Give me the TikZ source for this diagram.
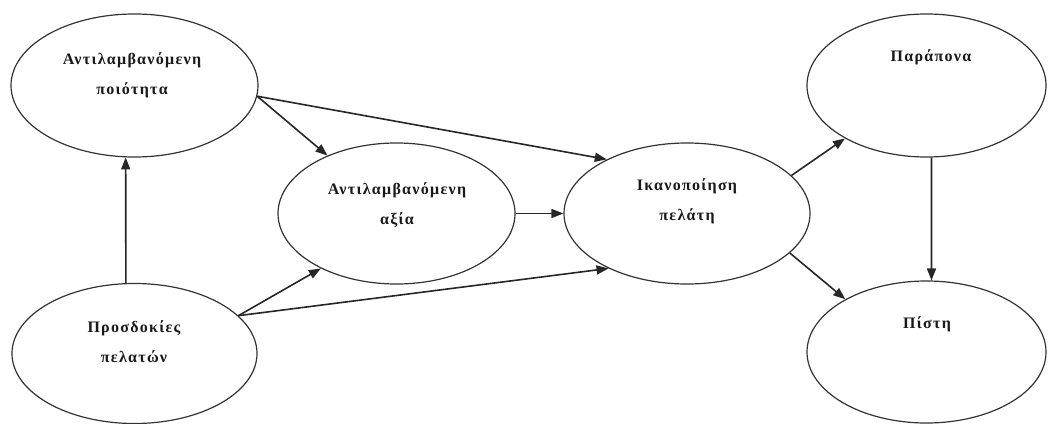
\documentclass[tikz,border=0pt]{standalone}
\usepackage{fontspec}
\setmainfont{Liberation Serif}
\usetikzlibrary{shapes.geometric,arrows.meta}
\begin{document}
\begin{tikzpicture}[x=1pt,y=-1pt,
  oval/.style={ellipse,draw=black!80,line width=1.2pt,inner sep=0pt},
  lbl/.style={align=center,font=\fontsize{16}{30}\selectfont\bfseries\addfontfeatures{LetterSpace=8},text=black!90},
  arr/.style={draw=black!85,line width=1.6pt,-{Triangle[length=12pt,width=9pt]}}]
\useasboundingbox (0,0) rectangle (1054,423);
\node[oval,minimum width=247pt,minimum height=143pt] (e1) at (134.5,85.5) {};
\node[oval,minimum width=237pt,minimum height=141pt] (e2) at (396.5,213.5) {};
\node[oval,minimum width=246pt,minimum height=141pt] (e3) at (687,213.5) {};
\node[oval,minimum width=239pt,minimum height=143pt] (e4) at (926.5,85.5) {};
\node[oval,minimum width=245pt,minimum height=140pt] (e5) at (134.5,353.5) {};
\node[oval,minimum width=239pt,minimum height=142pt] (e6) at (926.5,352) {};
\node[lbl] (t1) at (132,75) {Αντιλαμβανόμενη\\ποιότητα};
\node[lbl] (t2) at (397,205) {Αντιλαμβανόμενη\\αξία};
\node[lbl] (t3) at (687,201) {Ικανοποίηση\\πελάτη};
\node[lbl] (t4) at (931,57) {Παράπονα};
\node[lbl] (t5) at (134,342) {Προσδοκίες\\πελατών};
\node[lbl] (t6) at (927,324) {Πίστη};
\draw[arr] (e5.97) -- (e1.263);
\draw[arr] (e1.-5) -- (e2.140);
\draw[arr] (e1.-5) -- (e3.146);
\draw[arr] (e5.20) -- (e2.216);
\draw[arr] (e5.20) -- (e3.215);
\draw[arr] (e2.east) -- (e3.west);
\draw[arr] (e3.20) -- (e4.213);
\draw[arr] (e3.-21) -- (e6.147);
\draw[arr] (e4.-86) -- (e6.86);
\end{tikzpicture}
\end{document}
